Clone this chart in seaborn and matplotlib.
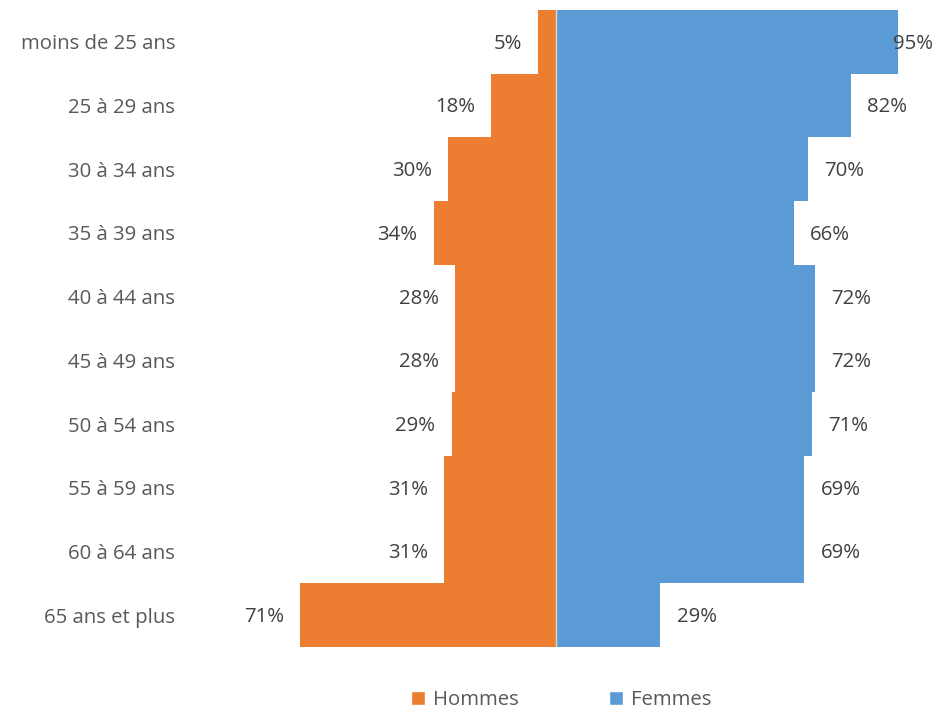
import matplotlib
matplotlib.use("Agg")
import matplotlib.pyplot as plt
import seaborn as sns
import pandas as pd
from matplotlib.patches import Patch

# Répartition hommes / femmes par tranche d'âge (%)
tranches = ["moins de 25 ans", "25 à 29 ans", "30 à 34 ans", "35 à 39 ans",
            "40 à 44 ans", "45 à 49 ans", "50 à 54 ans", "55 à 59 ans",
            "60 à 64 ans", "65 ans et plus"]
hommes = [5, 18, 30, 34, 28, 28, 29, 31, 31, 71]
femmes = [95, 82, 70, 66, 72, 72, 71, 69, 69, 29]

ORANGE = "#ED7D31"
BLEU = "#5B9BD5"
TXT = "#404040"
TICK = "#595959"

sns.set_theme(style="white")
plt.rcParams["font.family"] = ["Open Sans", "DejaVu Sans"]

df = pd.DataFrame({"tranche": tranches, "Hommes": [-h for h in hommes], "Femmes": femmes})

W, H = 939, 710
fig = plt.figure(figsize=(W / 100, H / 100), dpi=100)
x0 = 556
scale = 3.6
xmin, xmax = -100, 104
left_px = x0 + xmin * scale
right_px = x0 + xmax * scale
top_px, bot_px = 10, 647
ax = fig.add_axes([left_px / W, (H - bot_px) / H, (right_px - left_px) / W, (bot_px - top_px) / H])

sns.barplot(data=df, y="tranche", x="Hommes", color=ORANGE, width=1.0,
            orient="h", ax=ax, saturation=1, linewidth=0)
sns.barplot(data=df, y="tranche", x="Femmes", color=BLEU, width=1.0,
            orient="h", ax=ax, saturation=1, linewidth=0)

ax.set_xlim(xmin, xmax)
ax.set_ylim(9.5, -0.5)
ax.axvline(0, color="#D9D9D9", lw=1.0, zorder=5)

for s in ax.spines.values():
    s.set_visible(False)
ax.set_xticks([])
ax.set_xlabel("")
ax.set_ylabel("")
ax.tick_params(axis="y", length=0, pad=15, labelsize=14.7, labelcolor=TICK)

off = 4.5
for i, (h, f) in enumerate(zip(hommes, femmes)):
    ax.text(-h - off, i + 0.03, f"{h}%", ha="right", va="center", fontsize=14.7, color=TXT)
    ax.text(min(f + off, 93.5), i + 0.03, f"{f}%", ha="left", va="center", fontsize=14.7, color=TXT)

handles = [Patch(facecolor=ORANGE, label="Hommes"), Patch(facecolor=BLEU, label="Femmes")]
fig.legend(handles=handles, loc="center", bbox_to_anchor=(561 / W, 1 - 700 / H), ncol=2,
           frameon=False, fontsize=14.7, handlelength=0.7, handleheight=0.7,
           handletextpad=0.35, columnspacing=4.45, labelcolor=TICK)

fig.savefig("out.png", dpi=100)
